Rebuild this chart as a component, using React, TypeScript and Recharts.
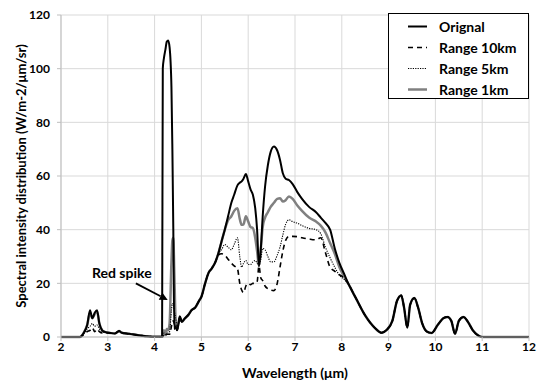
import React from 'react';
import { LineChart, Line, XAxis, YAxis, CartesianGrid, ReferenceLine, ReferenceDot } from 'recharts';

// ---- wavelength samples (µm), by region ----
const xA = [2.0, 2.4, 2.5, 2.56, 2.62, 2.67, 2.72, 2.77, 2.82, 2.88, 2.95, 3.05, 3.15, 3.2, 3.24, 3.3, 3.45, 3.6, 3.8, 3.95, 4.1];
const xB = [4.16, 4.175, 4.2, 4.23, 4.26, 4.29, 4.32, 4.36, 4.38, 4.4, 4.42, 4.45, 4.48];
const xC = [4.51, 4.54, 4.58, 4.65, 4.72, 4.79, 4.87, 4.95, 5.0, 5.08, 5.15, 5.22];
const xD = [5.3, 5.36, 5.43, 5.5, 5.57, 5.64, 5.7, 5.77, 5.82, 5.86, 5.9, 5.95, 6.0, 6.05, 6.1, 6.15, 6.19, 6.23, 6.27, 6.31, 6.36, 6.42, 6.48, 6.55, 6.62, 6.68, 6.74, 6.8, 6.87, 6.95, 7.05, 7.15, 7.3, 7.45, 7.55, 7.65, 7.75, 7.85, 7.95, 8.05, 8.15];
const xE = [8.3, 8.5, 8.7, 8.85, 8.95, 9.08, 9.18, 9.27, 9.33, 9.4, 9.46, 9.55, 9.63, 9.72, 9.82, 9.92, 10.05, 10.17, 10.26, 10.34, 10.42, 10.5, 10.6, 10.7, 10.8, 10.92, 11.0, 11.5, 12.0];

// ---- Original ----
const origA = [0, 0, 2, 4.5, 10, 7, 9, 10, 5, 2.5, 1.8, 1.5, 1.3, 1.8, 2.2, 1.6, 1.2, 0.8, 0.3, 0.1, 0.1];
const origB = [0.2, 100, 104, 107, 110, 110.5, 108, 93, 70, 40, 3, 4, 2.5];
const origD = [28, 31, 35.6, 40, 45, 50, 53, 56.5, 57.5, 58, 59, 60.7, 58, 55, 53, 48, 40, 26.5, 33, 45, 56, 64, 69, 71, 69.5, 66, 61, 59, 58.5, 57, 54, 51.5, 48.5, 46.5, 44.5, 42.5, 40, 33, 27.5, 23.5, 19.5];

// ---- Range 10km ----
const r10A = [0, 0, 1, 2, 2.5, 3.5, 2, 3, 2, 1.5, 1.5, 1.5, 1.3, 1.8, 2.2, 1.6, 1.2, 0.8, 0.3, 0.1, 0.1];
const r10B = [0.1, 0.1, 1, 0.5, 1, 1, 1, 4, 6, 6, 5, 4, 2.5];
const r10D = [28, 30.5, 31, 30.5, 29, 27.5, 26.5, 25.5, 20, 17.5, 16.5, 19, 20, 19.5, 20, 20, 20.5, 26.5, 22, 21, 19, 18, 17.5, 17.3, 20, 26, 32, 36, 37.5, 37.5, 37.4, 37, 36.5, 36.2, 37, 31.5, 26, 24.5, 23.2, 22, 19.5];

// ---- Range 5km ----
const r5A = [0, 0, 1.5, 3, 4, 5, 4, 4.5, 3, 2, 1.7, 1.5, 1.3, 1.8, 2.2, 1.6, 1.2, 0.8, 0.3, 0.1, 0.1];
const r5B = [0.1, 0.1, 1.5, 0.5, 1.5, 1.5, 2, 10, 12.5, 12, 10, 7, 4];
const r5D = [28, 31, 32.5, 34.5, 33.5, 32.5, 34.5, 37, 30, 26, 27.5, 28.5, 27, 27, 28, 28.5, 27.5, 26.5, 29, 33, 32.5, 30, 28, 28, 30.5, 33.5, 38, 42, 43.7, 43, 42.4, 41.5, 40.5, 40, 38.5, 33.5, 29.5, 26, 23, 21.5, 19.5];

// ---- Range 1km ----
const r1A = [0, 0, 2, 4.5, 9, 7, 8.5, 9.5, 5, 2.5, 1.8, 1.5, 1.3, 1.8, 2.2, 1.6, 1.2, 0.8, 0.3, 0.1, 0.1];
const r1B = [0.2, 0.3, 2.5, 1, 3, 2.5, 5, 28, 36, 37, 25, 6, 3];
const r1D = [28, 31, 35.5, 40, 43.5, 45, 47, 48, 44, 41.8, 42, 45, 43, 41, 40.6, 37, 32, 26.5, 33, 41, 44.5, 46.5, 48.5, 50, 51.5, 51.7, 50.5, 51, 52.4, 51.5, 49, 47, 44.5, 43, 41.5, 39, 35, 31, 26, 22.5, 19.5];

// ---- regions where all series coincide ----
const sharedC = [5, 7.6, 5.7, 7, 8.2, 10, 11, 13.5, 15, 20, 23.8, 25.5];
const sharedE = [14.5, 8, 3.5, 1.6, 2.5, 6, 13.5, 15.5, 11, 3.5, 12, 14.5, 11, 5, 2, 1.5, 4.5, 7, 7.5, 6, 1.2, 6, 7.5, 5.5, 2.5, 0.5, 0, 0, 0];

const wavelengths = [...xA, ...xB, ...xC, ...xD, ...xE];
const original = [...origA, ...origB, ...sharedC, ...origD, ...sharedE];
const range10 = [...r10A, ...r10B, ...sharedC, ...r10D, ...sharedE];
const range5 = [...r5A, ...r5B, ...sharedC, ...r5D, ...sharedE];
const range1 = [...r1A, ...r1B, ...sharedC, ...r1D, ...sharedE];

const xTicks = [2, 3, 4, 5, 6, 7, 8, 9, 10, 11, 12];
const yTicks = [0, 20, 40, 60, 80, 100, 120];

const seriesNames = ['Orignal', 'Range 10km', 'Range 5km', 'Range 1km'];

const data = wavelengths.map((x, i) => ({
  x,
  orig: original[i],
  r10: range10[i],
  r5: range5[i],
  r1: range1[i],
}));

const FONT = 'Lato, "Open Sans", sans-serif';

const legendStyles = [
  { stroke: '#000', width: 2, dash: undefined as string | undefined },
  { stroke: '#000', width: 1.6, dash: '5 4' },
  { stroke: '#000', width: 1.1, dash: '1.2 1.2' },
  { stroke: '#808080', width: 2.5, dash: undefined as string | undefined },
];

const arrowShape = (p: any) => {
  const { x1, y1, x2, y2 } = p;
  if (![x1, y1, x2, y2].every((v) => typeof v === 'number')) return <g />;
  const ang = Math.atan2(y2 - y1, x2 - x1);
  const L = 8;
  const W = 4;
  const bx = x2 - L * Math.cos(ang);
  const by = y2 - L * Math.sin(ang);
  const px = -Math.sin(ang) * W;
  const py = Math.cos(ang) * W;
  return (
    <g>
      <line x1={x1} y1={y1} x2={bx} y2={by} stroke="#000" strokeWidth={1.8} />
      <polygon points={`${x2},${y2} ${bx + px},${by + py} ${bx - px},${by - py}`} fill="#000" />
    </g>
  );
};

const yLabel = (props: any) => {
  const vb = props.viewBox || { x: 0, y: 15, width: 61, height: 322 };
  const cx = vb.x + 21;
  const cy = vb.y + vb.height / 2;
  return (
    <text x={cx} y={cy} transform={`rotate(-90 ${cx} ${cy})`} textAnchor="middle" dominantBaseline="central"
      style={{ fontFamily: FONT, fontSize: 13, fontWeight: 700, fill: '#000' }}>
      Spectral intensity distribution (W/m-2/μm/sr)
    </text>
  );
};

const xLabel = (props: any) => {
  const vb = props.viewBox || { x: 61, y: 337, width: 468, height: 44 };
  const cx = vb.x + vb.width / 2;
  const cy = vb.y + 35;
  return (
    <text x={cx} y={cy} textAnchor="middle" dominantBaseline="central"
      style={{ fontFamily: FONT, fontSize: 14, fontWeight: 700, fill: '#000' }}>
      Wavelength (μm)
    </text>
  );
};

export default function App() {
  return (
    <div style={{ position: 'absolute', left: 0, top: 0, width: 542, height: 381, background: '#fff', fontFamily: FONT }}>
      <LineChart width={542} height={381} data={data} margin={{ top: 15, right: 13, bottom: 0, left: 0 }}>
        <CartesianGrid stroke="#d9d9d9" strokeWidth={1} />
        <XAxis
          dataKey="x"
          type="number"
          domain={[2, 12]}
          ticks={xTicks}
          allowDataOverflow
          height={44}
          tickSize={4}
          tickMargin={1}
          axisLine={{ stroke: '#bfbfbf' }}
          tickLine={{ stroke: '#bfbfbf' }}
          tick={{ fontSize: 12, fontWeight: 700, fill: '#000', fontFamily: FONT }}
          label={xLabel}
        />
        <YAxis
          type="number"
          domain={[0, 120]}
          ticks={yTicks}
          width={61}
          tickSize={4}
          tickMargin={7}
          axisLine={{ stroke: '#bfbfbf' }}
          tickLine={{ stroke: '#bfbfbf' }}
          tick={{ fontSize: 12, fontWeight: 700, fill: '#000', fontFamily: FONT }}
          label={yLabel}
        />
        <Line dataKey="r1" name={seriesNames[3]} type="monotone" stroke="#808080" strokeWidth={2.5} dot={false} isAnimationActive={false} />
        <Line dataKey="r5" name={seriesNames[2]} type="monotone" stroke="#000" strokeWidth={1.1} strokeDasharray="1.2 1.2" dot={false} isAnimationActive={false} />
        <Line dataKey="r10" name={seriesNames[1]} type="monotone" stroke="#000" strokeWidth={1.6} strokeDasharray="5 4" dot={false} isAnimationActive={false} />
        <Line dataKey="orig" name={seriesNames[0]} type="monotone" stroke="#000" strokeWidth={2} dot={false} isAnimationActive={false} />
        <ReferenceLine segment={[{ x: 3.6, y: 20 }, { x: 4.28, y: 13.8 }]} shape={arrowShape} ifOverflow="visible" />
        <ReferenceDot x={3.3} y={23.9} r={0} fill="none" stroke="none"
          label={{ value: 'Red spike', position: 'center', fontSize: 14, fontWeight: 700, fill: '#000', fontFamily: FONT }} />
      </LineChart>
      <div style={{ position: 'absolute', left: 388, top: 13, width: 141, height: 86, boxSizing: 'border-box', border: '1.5px solid #000', background: '#fff' }}>
        {seriesNames.map((name, i) => (
          <div key={name} style={{ position: 'absolute', left: 0, top: 1.5 + i * 21.3, height: 21, width: '100%' }}>
            <svg width={24} height={21} style={{ position: 'absolute', left: 17, top: 0 }}>
              <line x1={2} y1={10.5} x2={21} y2={10.5} stroke={legendStyles[i].stroke} strokeWidth={legendStyles[i].width} strokeDasharray={legendStyles[i].dash} />
            </svg>
            <span style={{ position: 'absolute', left: 50, top: 0, lineHeight: '21px', fontSize: 14, fontWeight: 700, color: '#000', fontFamily: FONT, whiteSpace: 'nowrap' }}>{name}</span>
          </div>
        ))}
      </div>
    </div>
  );
}
